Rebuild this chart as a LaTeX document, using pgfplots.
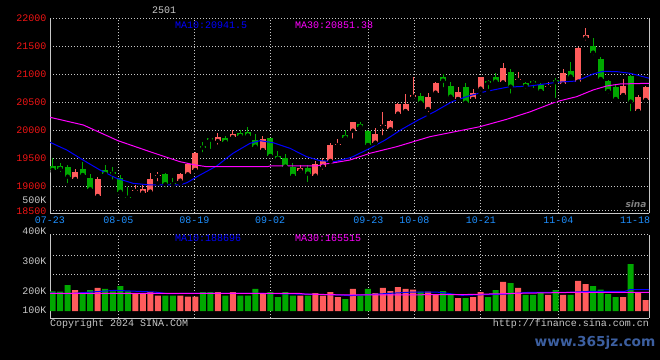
\documentclass[border=0pt]{standalone}
\usepackage{pgfplots}
\pgfplotsset{compat=1.18}
\usepackage{pgfplotstable}
\usepackage{fontspec}
\setmainfont{Liberation Mono}
\newfontfamily\wmfont{DejaVu Sans}
\definecolor{cred}{RGB}{255,92,92}
\definecolor{cgreen}{RGB}{0,168,0}
\definecolor{lblred}{RGB}{240,20,20}
\definecolor{datecol}{RGB}{30,144,255}
\definecolor{gridc}{RGB}{200,200,200}
\definecolor{txtgray}{RGB}{200,200,200}
\definecolor{ma10c}{RGB}{0,0,255}
\definecolor{ma30c}{RGB}{255,0,255}
\definecolor{wmc}{RGB}{60,95,160}
\newcommand\fsz{\fontsize{10bp}{12bp}\selectfont}
\pgfplotsset{every non boxed x axis/.style={}, every non boxed y axis/.style={}}

% candles: i open high low close
\pgfplotstableread{
i O H L C
3 19130 19303 19094 19249
6 18826 19160 18773 19130
11 18916 19023 18874 18934
12 18886 19023 18815 18945
13 18904 19231 18892 19124
14 19183 19261 19053 19201
17 19100 19243 19053 19219
18 19213 19410 19172 19398
19 19291 19606 19265 19588
22 19809 19946 19707 19880
24 19880 20005 19844 19934
28 19648 19898 19618 19844
33 19279 19380 19201 19326
35 19190 19452 19154 19392
36 19350 19511 19261 19452
37 19452 19767 19440 19737
38 19737 19844 19670 19758
40 19993 20150 19815 20148
43 19779 20035 19767 19934
44 20068 20333 19874 20088
45 20017 20184 20005 20166
46 20297 20481 20231 20475
47 20344 20648 20333 20475
48 20600 20958 20541 20630
50 20380 20672 20291 20594
51 20672 20862 20630 20850
54 20559 20767 20553 20690
56 20559 20731 20553 20660
57 20743 20958 20660 20946
60 20856 21208 20820 21118
62 20898 21047 20856 20916
66 20773 20868 20702 20791
68 20820 21095 20779 21017
70 20868 21493 20820 21475
71 21654 21830 21565 21702
76 20630 20910 20618 20791
78 20344 20630 20344 20600
79 20541 20791 20530 20779
}\upc
\pgfplotstableread{
i O H L C
0 19362 19499 19261 19291
1 19362 19422 19219 19309
2 19350 19380 19020 19171
4 19308 19440 19172 19201
5 19142 19219 18916 18945
7 19291 19380 19172 19219
8 19261 19350 19082 19225
9 19150 19200 18870 18900
10 18815 18993 18725 18795
15 19219 19231 18945 19035
16 19058 19142 18963 19038
20 19725 19797 19571 19690
21 19862 19868 19630 19832
23 19862 19898 19755 19791
25 19957 20005 19868 19898
26 19969 20059 19904 19904
27 19832 19928 19630 19707
29 19862 19868 19535 19541
30 19541 19630 19487 19493
31 19499 19571 19345 19350
32 19350 19410 19180 19184
34 19320 19380 19040 19225
39 19916 20005 19826 19868
41 20112 20148 19993 20065
42 19993 20005 19731 19737
49 20612 20660 20481 20493
52 20958 21005 20731 20886
53 20791 20856 20553 20600
55 20779 20850 20481 20493
58 20886 20890 20702 20844
59 20958 21017 20809 20868
61 21047 21095 20618 20779
63 20850 20868 20708 20791
64 20880 20898 20720 20850
65 20809 20838 20630 20702
67 20900 20928 20541 20860
69 21059 21225 20940 20958
72 21505 21650 21305 21386
73 21268 21300 20898 20916
74 20880 20898 20620 20700
75 20779 20809 20499 20559
77 20970 20987 20303 20511
}\downc
\pgfplotstableread{
i v
3 186000
6 204000
11 153000
12 153000
13 168000
14 136000
17 136000
18 127000
19 127000
22 168000
24 168000
28 153000
33 136000
35 159000
36 136000
37 168000
38 124000
40 195000
43 159000
44 204000
45 177000
46 212000
47 195000
48 189000
50 171000
51 145000
54 115000
56 124000
57 168000
60 257000
62 204000
66 142000
68 142000
70 266000
71 239000
76 124000
78 168000
79 97000
}\upv
\pgfplotstableread{
i v
0 174000
1 171000
2 230000
4 165000
5 186000
7 195000
8 174000
9 221000
10 174000
15 136000
16 136000
20 168000
21 168000
23 136000
25 136000
26 136000
27 195000
29 168000
30 124000
31 168000
32 136000
34 136000
39 106000
41 136000
42 195000
49 171000
52 177000
53 145000
55 115000
58 124000
59 186000
61 248000
63 142000
64 142000
65 159000
67 186000
69 142000
72 221000
73 189000
74 150000
75 124000
77 416000
}\downv

\begin{document}
\begin{tikzpicture}
\fill[black] (0bp,0bp) rectangle (660bp,360bp);

% ---------- price panel ----------
\begin{axis}[
  at={(50bp,146.7bp)}, anchor=south west,
  width=599bp, height=195bp, scale only axis,
  xmin=-0.36, xmax=79.44, ymin=18517, ymax=22000,
  scaled x ticks=false, scaled y ticks=false,
  axis x line=bottom, axis y line=box,
  axis line style={draw=gridc, line width=1bp, -},
  major tick length=0pt,
  xtick={-0.36,8.74,18.86,28.95,42.04,48.17,57.04,67.36},
  xticklabels={07-23,08-05,08-19,09-02,09-23,10-08,10-21,11-04},
  extra x ticks={77.58}, extra x tick labels={11-18},
  extra x tick style={grid=none},
  ytick={18560,19000,19500,20000,20500,21000,21500,22000},
  yticklabels={18500,19000,19500,20000,20500,21000,21500,22000},
  xmajorgrids, ymajorgrids,
  grid style={draw=gridc, line width=1bp, dash pattern=on 1bp off 2bp},
  xticklabel style={text=datecol, font=\fsz},
  yticklabel style={text=lblred, font=\fsz},
]
\addplot[only marks, mark=none, forget plot,
  error bars/.cd, y dir=plus, y explicit, error mark=none,
  error bar style={draw=cred, line width=1bp}]
  table[x=i, y=L, y error expr=\thisrow{H}-\thisrow{L}] {\upc};
\addplot[only marks, mark=none, forget plot,
  error bars/.cd, y dir=plus, y explicit, error mark=none,
  error bar style={draw=cred, line width=6bp}]
  table[x=i, y=O, y error expr=\thisrow{C}-\thisrow{O}] {\upc};
\addplot[only marks, mark=none, forget plot,
  error bars/.cd, y dir=plus, y explicit, error mark=none,
  error bar style={draw=cgreen, line width=1bp}]
  table[x=i, y=L, y error expr=\thisrow{H}-\thisrow{L}] {\downc};
\addplot[only marks, mark=none, forget plot,
  error bars/.cd, y dir=plus, y explicit, error mark=none,
  error bar style={draw=cgreen, line width=6bp}]
  table[x=i, y=C, y error expr=\thisrow{O}-\thisrow{C}] {\downc};
% MA10
\addplot[ma10c, line width=1bp, mark=none] coordinates {
(-0.36,19785) (1.87,19648) (4.04,19469) (6.30,19290) (8.53,19142) (10.70,19053)
(12.96,19023) (16.95,19023) (17.89,19064) (19.62,19201) (21.85,19362) (24.02,19589)
(26.29,19767) (27.62,19814) (29.35,19778) (31.61,19678) (33.84,19528) (35.61,19457)
(37.6,19440) (39.8,19517) (42.0,19660) (44.3,19826) (46.5,20017) (48.7,20184)
(50.9,20333) (53.2,20511) (55.4,20612) (57.6,20690) (60.48,20768) (63.58,20791)
(67.14,20857) (69.81,20880) (71.98,21005) (73.32,21053) (75.14,21047) (76.91,21018)
(79.44,20930)};
% MA30
\addplot[ma30c, line width=1bp, mark=none] coordinates {
(-0.36,20232) (4.08,20094) (8.70,19814) (12.96,19617) (16.95,19439) (19.0,19380)
(20.5,19350) (28.6,19350) (29.0,19362) (35.2,19362) (36.0,19392) (37.5,19421)
(39.6,19469) (42.27,19589) (45.83,19707) (50.27,19886) (56.92,20064) (60.48,20196)
(63.6,20330) (67.1,20511) (69.8,20600) (72.0,20720) (73.8,20791) (75.6,20827)
(79.44,20839)};
\end{axis}

% ---------- volume panel ----------
\begin{axis}[
  at={(50bp,42bp)}, anchor=south west,
  width=599bp, height=83.3bp, scale only axis,
  xmin=-0.36, xmax=79.44, ymin=-62000, ymax=676000,
  scaled x ticks=false, scaled y ticks=false,
  axis x line=bottom, axis y line=box,
  axis line style={draw=gridc, line width=1bp, -},
  major tick length=0pt,
  xtick={-0.36,8.74,18.86,28.95,42.04,48.17,57.04,67.36},
  xticklabels={},
  ytick={319000,496000,676000}, yticklabels={,,},
  extra y ticks={8855,177000,443000,676000},
  extra y tick labels={100K,200K,300K,\raisebox{7.4bp}{400K}},
  extra y tick style={grid=none},
  xmajorgrids, ymajorgrids,
  grid style={draw=gridc, line width=1bp, dash pattern=on 1bp off 2bp},
  yticklabel style={text=txtgray, font=\fsz},
]
\addplot[ybar, bar width=6bp, bar shift=0pt, fill=cred, draw=none, forget plot]
  table[x=i, y=v] {\upv};
\addplot[ybar, bar width=6bp, bar shift=0pt, fill=cgreen, draw=none, forget plot]
  table[x=i, y=v] {\downv};
\addplot[ma10c, line width=1bp, mark=none] coordinates {
(-0.36,159000) (2.0,153000) (8.3,183000) (11.4,174000) (13.6,168000) (15.4,153000)
(18.3,157000) (26.3,157000) (33,150000) (38.3,142000) (39.6,136000) (43.3,150000)
(47.9,168000) (51.6,166000) (54.5,139000) (60.3,150000) (63.6,166000) (68.9,166000)
(71.6,174000) (76.2,174000) (76.9,189000) (79.44,189000)};
\addplot[ma30c, line width=1bp, mark=none] coordinates {
(-0.36,157000) (32.7,157000) (33.6,150000) (39,142000) (54.5,145000) (62.3,157000)
(70.3,166000) (79.44,166000)};
\end{axis}

% ---------- texts ----------
\node[text=txtgray, font=\fsz] at (164bp,350bp) {2501};
\node[text=ma10c, font=\fsz, anchor=west, inner sep=0pt] at (175bp,335bp) {MA10:20941.5};
\node[text=ma30c, font=\fsz, anchor=west, inner sep=0pt] at (295bp,335bp) {MA30:20851.38};
\node[text=ma10c, font=\fsz, anchor=west, inner sep=0pt] at (175bp,122bp) {MA10:188696};
\node[text=ma30c, font=\fsz, anchor=west, inner sep=0pt] at (295bp,122bp) {MA30:165515};
\node[text=txtgray, font=\fsz, anchor=east, inner sep=0pt] at (46.7bp,160bp) {500K};
\node[text=txtgray, font=\fsz, anchor=west, inner sep=0pt] at (50bp,36bp) {Copyright 2024 SINA.COM};
\node[text=txtgray, font=\fsz, anchor=east, inner sep=0pt] at (649bp,36bp) {http://finance.sina.com.cn};
\node[text=gray, font=\wmfont\bfseries\itshape\fontsize{9bp}{10bp}\selectfont] at (636bp,156bp) {sina};
\node[text=wmc, font=\wmfont\bfseries\fontsize{13.7bp}{15bp}\selectfont] at (595bp,17bp) {www.365jz.com};

\pgfresetboundingbox
\useasboundingbox (0bp,0bp) rectangle (660bp,360bp);
\end{tikzpicture}
\end{document}
